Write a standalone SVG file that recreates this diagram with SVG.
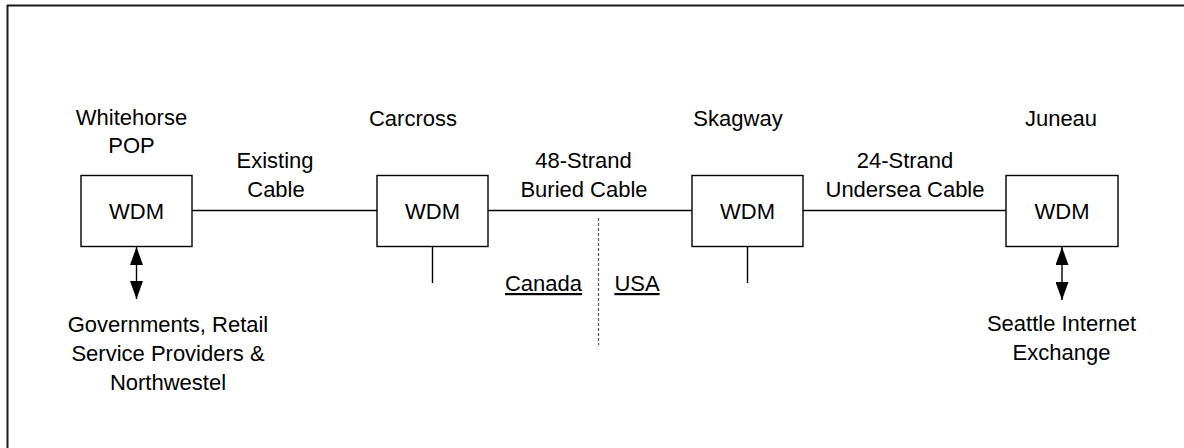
<svg xmlns="http://www.w3.org/2000/svg" width="1184" height="448" viewBox="0 0 1184 448">
<style>
text{font-family:"Liberation Sans",Arial,sans-serif;font-size:22px;fill:#000;text-anchor:middle}
.box{fill:#fff;stroke:#000;stroke-width:1.4}
.ln{stroke:#000;stroke-width:1.4;fill:none}
.dash{stroke:#555;stroke-width:1.2;stroke-dasharray:3 2;fill:none}
.u{text-decoration:underline}
</style>
<defs>
<marker id="ah" markerUnits="userSpaceOnUse" markerWidth="18" markerHeight="13" refX="18" refY="6.5" viewBox="0 0 18 13" orient="auto-start-reverse">
<path d="M0,0 L18,6.5 L0,13 Z" fill="#000"/>
</marker>
</defs>
<rect x="0" y="0" width="1184" height="448" fill="#fff"/>
<path d="M7.5,448 V5.5 H1184" fill="none" stroke="#1a1a1a" stroke-width="2"/>
<g id="connectors">
<line class="ln" x1="192" y1="210.5" x2="377" y2="210.5"/>
<line class="ln" x1="488" y1="210.5" x2="692" y2="210.5"/>
<line class="ln" x1="803" y1="210.5" x2="1006" y2="210.5"/>
<line class="ln" x1="432.5" y1="246.5" x2="432.5" y2="283"/>
<line class="ln" x1="747.5" y1="246.5" x2="747.5" y2="283"/>
<line class="ln" x1="136.5" y1="247" x2="136.5" y2="299" marker-start="url(#ah)" marker-end="url(#ah)"/>
<line class="ln" x1="1062" y1="247" x2="1062" y2="300" marker-start="url(#ah)" marker-end="url(#ah)"/>
<line class="dash" x1="598.5" y1="218" x2="598.5" y2="345"/>
<text x="275" y="168">Existing</text>
<text x="276" y="197">Cable</text>
<text x="583.5" y="168">48-Strand</text>
<text x="584" y="197">Buried Cable</text>
<text x="905" y="168">24-Strand</text>
<text x="905" y="197">Undersea Cable</text>
<text class="u" x="543.5" y="291">Canada</text>
<text class="u" x="637" y="291">USA</text>
</g>
<g id="whitehorse">
<text x="131.5" y="125">Whitehorse</text>
<text x="131.5" y="153">POP</text>
<rect class="box" x="81" y="175.5" width="111" height="71"/>
<text x="136.5" y="218.5">WDM</text>
</g>
<g id="users">
<text x="168" y="332">Governments, Retail</text>
<text x="168" y="361">Service Providers &amp;</text>
<text x="168" y="390">Northwestel</text>
</g>
<g id="carcross">
<text x="413" y="126">Carcross</text>
<rect class="box" x="377" y="175.5" width="111" height="71"/>
<text x="432.5" y="218.5">WDM</text>
</g>
<g id="skagway">
<text x="738" y="126">Skagway</text>
<rect class="box" x="692" y="175.5" width="111" height="71"/>
<text x="747.5" y="218.5">WDM</text>
</g>
<g id="juneau">
<text x="1061" y="126">Juneau</text>
<rect class="box" x="1006" y="175.5" width="112" height="71"/>
<text x="1062" y="218.5">WDM</text>
</g>
<g id="seattle">
<text x="1061.5" y="331">Seattle Internet</text>
<text x="1061.5" y="359.5">Exchange</text>
</g>
</svg>
